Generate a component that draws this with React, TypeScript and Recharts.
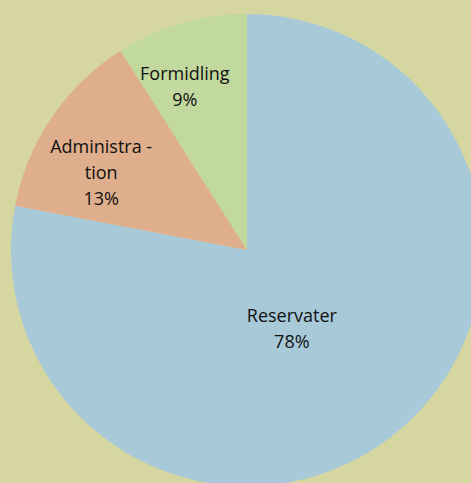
import { PieChart, Pie, Cell } from 'recharts';

const categories = ['Reservater', 'Administration', 'Formidling'];
const labelLines = [['Reservater'], ['Administra -', 'tion'], ['Formidling']];
const shares = [78, 13, 9];

const COLORS = ['#a7c9d8', '#dfae8c', '#c1d89e'];
const BG = '#d6d6a0';

// where each label sits: fraction of radius and angle shift from the slice middle
const LABEL_POS = [
  { r: 0.38, shift: -9.6 },
  { r: 0.7, shift: 6.2 },
  { r: 0.745, shift: 4.5 },
];

const RADIAN = Math.PI / 180;

const chartData = categories.map((name, i) => ({ name, value: shares[i] }));

const renderLabel = (props: any) => {
  const { cx, cy, midAngle, outerRadius, index } = props;
  const pos = LABEL_POS[index];
  const angle = (midAngle + pos.shift) * RADIAN;
  const x = cx + outerRadius * pos.r * Math.cos(angle);
  const y = cy - outerRadius * pos.r * Math.sin(angle);
  const lines = [...labelLines[index], `${shares[index]}%`];
  const lineH = 26;
  const top = y - ((lines.length - 1) * lineH) / 2;
  return (
    <text
      x={x}
      y={top}
      textAnchor="middle"
      dominantBaseline="central"
      fill="#111"
      fontSize={18}
      fontFamily="'Open Sans', sans-serif"
    >
      {lines.map((l, i) => (
        <tspan key={i} x={x} y={top + i * lineH}>
          {l}
        </tspan>
      ))}
    </text>
  );
};

export default function App() {
  return (
    <div style={{ position: 'fixed', left: 0, top: 0, width: 471, height: 483, background: BG }}>
      <PieChart width={471} height={483} margin={{ top: 0, right: 0, bottom: 0, left: 0 }}>
        <Pie
          data={chartData}
          dataKey="value"
          cx={247}
          cy={250}
          outerRadius={236}
          startAngle={90}
          endAngle={-270}
          stroke="none"
          labelLine={false}
          label={renderLabel}
          isAnimationActive={false}
        >
          {chartData.map((entry, index) => (
            <Cell key={`cell-${index}`} fill={COLORS[index]} />
          ))}
        </Pie>
      </PieChart>
    </div>
  );
}
